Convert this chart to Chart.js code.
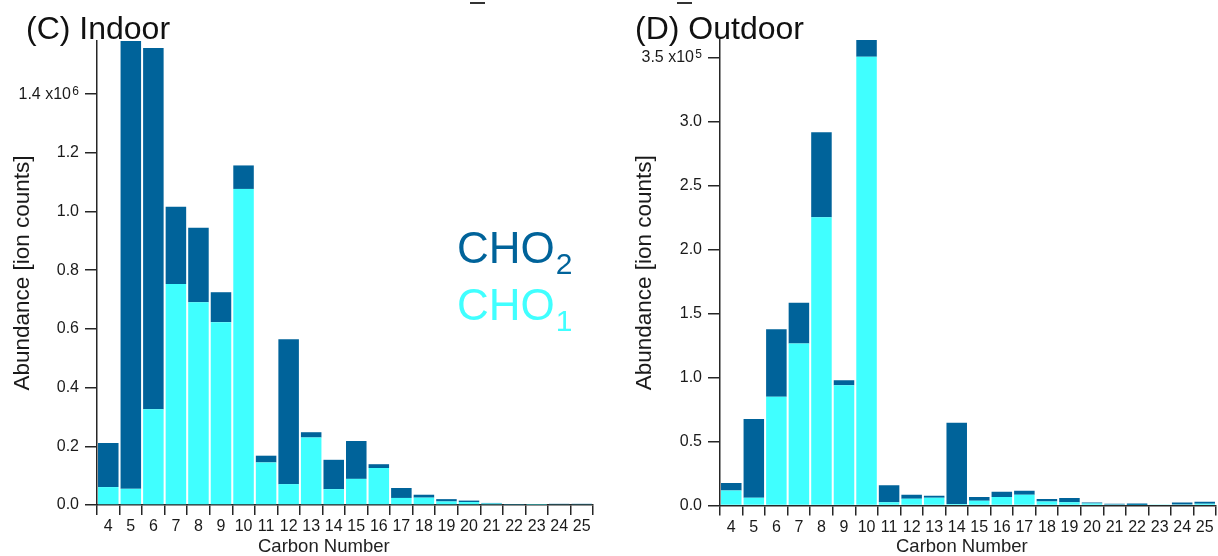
<!DOCTYPE html>
<html>
<head>
<meta charset="utf-8">
<script src="https://cdn.jsdelivr.net/npm/chart.js@4.4.1/dist/chart.umd.min.js"></script>
<style>
  html, body { margin: 0; padding: 0; background: #fff; }
  #wrap { position: relative; width: 1218px; height: 556px; overflow: hidden;
          font-family: 'Liberation Sans', Arial, sans-serif; color: #111; }
  canvas { position: absolute; top: 0; }
  .t { position: absolute; white-space: nowrap; line-height: 1; }
  .panel { font-size: 32px; }
  .xtitle { font-size: 18.5px; color: #222; }
  .key { font-size: 44px; }
  .key sub { font-size: 30px; position: relative; top: 11px; vertical-align: baseline; margin-left: 1px; }
  .dash { position: absolute; height: 2px; background: #333; }
</style>
</head>
<body>
<div id="wrap">
  <canvas id="indoor" width="609" height="556" style="left:0"></canvas>
  <canvas id="outdoor" width="609" height="556" style="left:609px"></canvas>

  <div class="dash" style="left:470px;top:2px;width:15px"></div>
  <div class="dash" style="left:677px;top:2px;width:15px"></div>

  <div class="t panel" style="left:26px;top:12px">(C) Indoor</div>
  <div class="t panel" style="left:635px;top:12px">(D) Outdoor</div>

  <div class="t key" style="left:457px;top:226px;color:#00639A">CHO<sub>2</sub></div>
  <div class="t key" style="left:457px;top:283px;color:#40FFFF">CHO<sub>1</sub></div>

  <div class="t xtitle" style="left:258px;top:537px">Carbon Number</div>
  <div class="t xtitle" style="left:896px;top:537px">Carbon Number</div>
</div>

<script>
// Carbon numbers on the x axis
const carbonNumbers = ['4','5','6','7','8','9','10','11','12','13','14','15',
                       '16','17','18','19','20','21','22','23','24','25'];

// Indoor abundances [ion counts]
const indoorCHO1 = [61000, 55000, 326000, 753000, 691000, 623000, 1077000, 145000,
                    71000, 230000, 54000, 89000, 126000, 24000, 25000, 12000,
                    10000, 5000, 2000, 1000, 3000, 3000];
const indoorCHO2 = [150000, 1526000, 1231000, 263000, 254000, 102000, 80000, 23000,
                    494000, 18000, 100000, 129000, 13000, 34000, 10000, 8000,
                    5000, 2000, 1000, 0, 1000, 1000];

// Outdoor abundances [ion counts]
const outdoorCHO1 = [11800, 6100, 85000, 126600, 225000, 93900, 350500, 2600,
                     5300, 6100, 1100, 3700, 6600, 8400, 3200, 2600,
                     1600, 800, 300, 700, 800, 1300];
const outdoorCHO2 = [5800, 61500, 52600, 31800, 66400, 4000, 13000, 13200,
                     3100, 1500, 63600, 2900, 4200, 3200, 1800, 3200,
                     800, 500, 1300, 100, 1600, 1600];

// Y tick spacing and exponent shown on the top tick label
const indoorTickStep = 200000, indoorExponent = 6;
const outdoorTickStep = 50000, outdoorExponent = 5;

const DARK = '#00639A';
const CYAN = '#40FFFF';
const AXIS = '#262626';
const TEXT = '#1a1a1a';
const FONT = "'Liberation Sans', Arial, sans-serif";
const Y_TICK_LEN = 12, Y_TICK_PAD = 6;

// Draws the power-of-ten exponent as a raised digit after the top y tick label
const exponentPlugin = {
  id: 'exponentMark',
  afterDraw(chart, args, opts) {
    const s = chart.scales.y;
    const top = s.ticks[s.ticks.length - 1];
    const y = s.getPixelForValue(top.value);
    const ctx = chart.ctx;
    ctx.save();
    ctx.fillStyle = TEXT;
    ctx.font = '12px ' + FONT;
    ctx.textAlign = 'right';
    ctx.textBaseline = 'alphabetic';
    ctx.fillText(String(opts.exponent), s.right - Y_TICK_LEN - Y_TICK_PAD, y + 1);
    ctx.restore();
  }
};

function panel(id, cho1, cho2, step, exponent, geom) {
  const totals = cho1.map((v, i) => v + cho2[i]);
  const yMax = Math.max(...totals);
  const unit = Math.pow(10, exponent);
  return new Chart(document.getElementById(id), {
    type: 'bar',
    data: {
      labels: carbonNumbers,
      datasets: [
        { label: 'CHO1', data: cho1, backgroundColor: CYAN, borderWidth: 0 },
        { label: 'CHO2', data: cho2, backgroundColor: DARK, borderWidth: 0 }
      ]
    },
    plugins: [exponentPlugin],
    options: {
      responsive: false,
      animation: false,
      events: [],
      barPercentage: 0.91,
      categoryPercentage: 1.0,
      layout: { padding: { top: geom.top, right: geom.right, left: 0, bottom: 0 } },
      plugins: {
        legend: { display: false },
        tooltip: { enabled: false },
        exponentMark: { exponent: exponent }
      },
      scales: {
        x: {
          stacked: true,
          offset: true,
          border: { display: true, color: AXIS, width: 1.5 },
          grid: { offset: true, drawOnChartArea: false, drawTicks: true,
                  tickLength: 10, color: AXIS, lineWidth: 1.5 },
          ticks: { color: TEXT, font: { family: FONT, size: 16 },
                   maxRotation: 0, autoSkip: false, padding: 2 },
          afterFit: s => { s.height = geom.xHeight; }
        },
        y: {
          stacked: true,
          min: 0,
          max: yMax,
          border: { display: true, color: AXIS, width: 1.5 },
          grid: { drawOnChartArea: false, drawTicks: true, tickLength: Y_TICK_LEN,
                  color: AXIS, lineWidth: 1.5 },
          ticks: {
            padding: Y_TICK_PAD,
            color: TEXT,
            font: { family: FONT, size: 16 },
            callback: (v, i, ticks) => {
              const s = (v / unit).toFixed(1);
              // the en space leaves room for the raised exponent
              return i === ticks.length - 1 ? s + ' x10\u2002' : s;
            }
          },
          // ticks at whole multiples of the step, up to the data maximum
          afterBuildTicks: s => {
            const ticks = [];
            for (let k = 0; k * step <= yMax; k++) ticks.push({ value: k * step });
            s.ticks = ticks;
          },
          title: {
            display: true,
            text: 'Abundance [ion counts]',
            color: TEXT,
            font: { family: FONT, size: 22.5 },
            padding: { top: geom.titlePad, bottom: 0 }
          },
          afterFit: s => { s.width = geom.yWidth; }
        }
      }
    }
  });
}

panel('indoor', indoorCHO1, indoorCHO2, indoorTickStep, indoorExponent,
      { top: 41, right: 16, xHeight: 51, yWidth: 97, titlePad: 9 });
panel('outdoor', outdoorCHO1, outdoorCHO2, outdoorTickStep, outdoorExponent,
      { top: 40, right: 2, xHeight: 50.5, yWidth: 111, titlePad: 22 });
</script>
</body>
</html>
